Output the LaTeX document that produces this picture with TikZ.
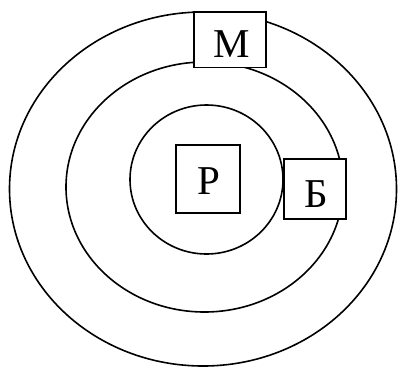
\documentclass[tikz,border=0pt]{standalone}
\usepackage{fontspec}
\setmainfont{Liberation Serif}
\begin{document}
\begin{tikzpicture}[x=1pt,y=-1pt,line width=1.6pt,
  ring/.style={draw,ellipse},
  lbox/.style={draw,fill=white,inner sep=0pt},
  lbl/.style={font=\fontsize{41}{41}\selectfont}]
\useasboundingbox (0,0) rectangle (398,367);
\draw (203,189) ellipse [x radius=193.5, y radius=177];
\draw (204.5,187) ellipse [x radius=138.5, y radius=125];
\draw (206.5,179.5) ellipse [x radius=76.5, y radius=74.5];
\node[lbox,minimum width=72pt,minimum height=55.6pt] (m) at (230,39.5) {};
\node[lbox,minimum width=64.3pt,minimum height=67.7pt] (r) at (208,179) {};
\node[lbox,minimum width=62.3pt,minimum height=60pt] (b) at (315,189) {};
\node[lbl] (mt) at (232,44.5) {М};
\node[lbl] (rt) at (208.5,181.5) {Р};
\node[lbl] (bt) at (316.5,194) {Б};
\end{tikzpicture}
\end{document}
